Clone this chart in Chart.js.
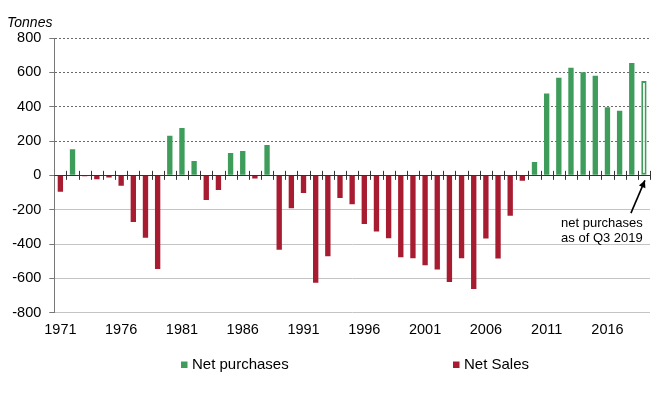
<!DOCTYPE html>
<html>
<head>
<meta charset="utf-8">
<script src="https://cdn.jsdelivr.net/npm/chart.js@4.4.1/dist/chart.umd.min.js"></script>
<style>
  html, body { margin: 0; padding: 0; background: #ffffff; }
  canvas { display: block; }
</style>
</head>
<body>
<canvas id="c" width="660" height="396"></canvas>
<script>
// ---- data ----
const years = ['1971','1972','1973','1974','1975','1976','1977','1978','1979','1980',
  '1981','1982','1983','1984','1985','1986','1987','1988','1989','1990',
  '1991','1992','1993','1994','1995','1996','1997','1998','1999','2000',
  '2001','2002','2003','2004','2005','2006','2007','2008','2009','2010',
  '2011','2012','2013','2014','2015','2016','2017','2018','2019'];
const netTonnes = [-95, 152, -5, -23, -12, -60, -272, -364, -545, 230,
  276, 84, -144, -86, 130, 142, -19, 177, -434, -191,
  -103, -625, -471, -132, -169, -284, -327, -366, -477, -483,
  -524, -549, -621, -483, -662, -368, -485, -235, -31, 78,
  477, 568, 627, 600, 580, 397, 376, 654, 549];
const tickYears = ['1971','1976','1981','1986','1991','1996','2001','2006','2011','2016'];
const yTicks = [-800, -600, -400, -200, 0, 200, 400, 600, 800];
const seriesNames = ['Net purchases', 'Net Sales'];
const partialYear = '2019';
const unitLabel = 'Tonnes';
const noteLines = ['net purchases', 'as of Q3 2019'];

const GREEN = '#3e9d5b';
const RED = '#a71c31';
const FONT = "'Liberation Sans', Arial, sans-serif";

const purchases = netTonnes.map(v => v > 0 ? v : null);
const sales = netTonnes.map(v => v < 0 ? v : null);

const extras = {
  id: 'extras',
  afterDatasetsDraw(chart) {
    const ctx = chart.ctx;
    const x = chart.scales.x, y = chart.scales.y;
    const y0 = y.getPixelForValue(0);
    ctx.save();
    // zero axis line
    ctx.strokeStyle = '#333';
    ctx.lineWidth = 1;
    ctx.beginPath();
    ctx.moveTo(chart.chartArea.left, Math.round(y0) + 0.5);
    ctx.lineTo(chart.chartArea.right, Math.round(y0) + 0.5);
    ctx.stroke();
    // category boundary ticks
    const half = (x.getPixelForValue(1) - x.getPixelForValue(0)) / 2;
    for (let i = 0; i < years.length; i++) {
      const px = Math.round(x.getPixelForValue(i) + half) + 0.5;
      ctx.beginPath();
      ctx.moveTo(px, y0 - 4.5);
      ctx.lineTo(px, y0 + 4.5);
      ctx.stroke();
    }
    // annotation
    const idx = years.indexOf(partialYear);
    const xp = x.getPixelForValue(idx);
    const tipX = xp + 1, tipY = y0 + 5;
    const startX = xp - 13, startY = y.getPixelForValue(-220);
    ctx.strokeStyle = '#000';
    ctx.fillStyle = '#000';
    ctx.lineWidth = 1.6;
    ctx.beginPath();
    ctx.moveTo(startX, startY);
    ctx.lineTo(tipX, tipY);
    ctx.stroke();
    const ang = Math.atan2(tipY - startY, tipX - startX);
    const L = 7, W = 3.5;
    ctx.beginPath();
    ctx.moveTo(tipX, tipY);
    ctx.lineTo(tipX - L * Math.cos(ang) + W * Math.sin(ang), tipY - L * Math.sin(ang) - W * Math.cos(ang));
    ctx.lineTo(tipX - L * Math.cos(ang) - W * Math.sin(ang), tipY - L * Math.sin(ang) + W * Math.cos(ang));
    ctx.closePath();
    ctx.fill();
    ctx.font = '13px ' + FONT;
    ctx.textAlign = 'center';
    ctx.textBaseline = 'alphabetic';
    const cx = xp - 42;
    ctx.fillText(noteLines[0], cx, y.getPixelForValue(-298));
    ctx.fillText(noteLines[1], cx, y.getPixelForValue(-386));
    ctx.restore();
  },
  afterDraw(chart) {
    const ctx = chart.ctx;
    ctx.save();
    // unit label
    ctx.font = 'italic 14px ' + FONT;
    ctx.fillStyle = '#000';
    ctx.textAlign = 'left';
    ctx.textBaseline = 'alphabetic';
    ctx.fillText(unitLabel, 7, 26.5);
    // legend
    const items = [
      { text: seriesNames[0], color: GREEN, x: 181 },
      { text: seriesNames[1], color: RED, x: 453 }
    ];
    ctx.font = '15px ' + FONT;
    ctx.textBaseline = 'middle';
    items.forEach(it => {
      ctx.fillStyle = it.color;
      ctx.fillRect(it.x, 361.5, 6.5, 6.5);
      ctx.fillStyle = '#000';
      ctx.fillText(it.text, it.x + 11, 365);
    });
    ctx.restore();
  }
};

new Chart(document.getElementById('c'), {
  type: 'bar',
  data: {
    labels: years,
    datasets: [
      {
        label: seriesNames[0],
        data: purchases,
        backgroundColor: years.map(yr => yr === partialYear ? '#ffffff' : GREEN),
        borderColor: GREEN,
        borderWidth: years.map(yr => yr === partialYear ? 2 : 0),
        borderSkipped: false,
        barPercentage: 0.44,
        categoryPercentage: 1
      },
      {
        label: seriesNames[1],
        data: sales,
        backgroundColor: RED,
        borderWidth: 0,
        barPercentage: 0.44,
        categoryPercentage: 1
      }
    ]
  },
  options: {
    responsive: false,
    animation: false,
    events: [],
    layout: { padding: { top: 38, right: 10, left: 0, bottom: 0 } },
    plugins: { legend: { display: false }, tooltip: { enabled: false }, title: { display: false } },
    scales: {
      x: {
        stacked: true,
        grid: { display: false, drawTicks: false },
        border: { display: false },
        ticks: {
          autoSkip: false,
          maxRotation: 0,
          minRotation: 0,
          padding: 9,
          color: '#000',
          font: { family: FONT, size: 14.5 },
          callback: function(v, i) { const l = years[i]; return tickYears.includes(l) ? l : ''; }
        },
        afterFit(scale) { scale.height = 83.3; }
      },
      y: {
        stacked: true,
        min: yTicks[0],
        max: yTicks[yTicks.length - 1],
        afterBuildTicks(scale) { scale.ticks = yTicks.map(v => ({ value: v })); },
        afterFit(scale) { scale.width = 54.3; },
        grid: {
          color: c => (c.tick && c.tick.value > 0) ? '#6a6a6a' : (c.tick && c.tick.value === 0 ? 'rgba(0,0,0,0)' : '#c4c4c4'),
          lineWidth: 1,
          tickLength: 5,
          tickColor: '#777',
          tickBorderDash: []
        },
        border: {
          display: true,
          color: '#777',
          width: 1,
          dash: c => (c.tick && c.tick.value > 0) ? [2, 2] : []
        },
        ticks: {
          padding: 8,
          color: '#000',
          font: { family: FONT, size: 14.5 },
          callback: v => String(v)
        }
      }
    }
  },
  plugins: [extras]
});
</script>
</body>
</html>
